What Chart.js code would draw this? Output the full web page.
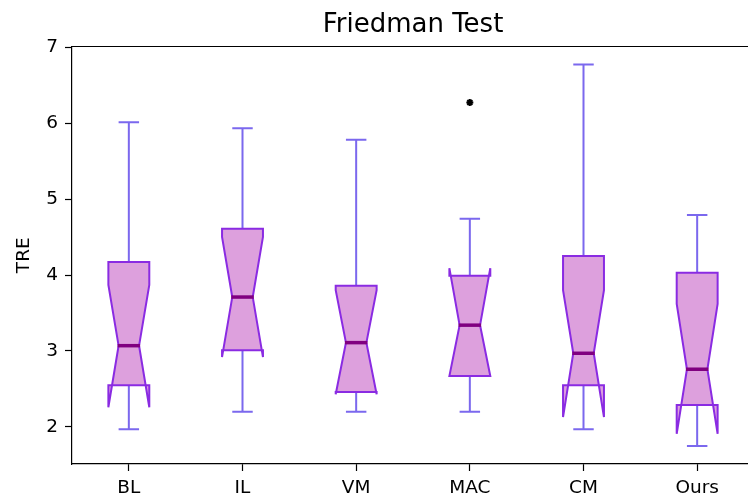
<!DOCTYPE html>
<html>
<head>
<meta charset="utf-8">
<script src="https://cdn.jsdelivr.net/npm/chart.js@4.4.1/dist/chart.umd.min.js"></script>
<style>
  html, body { margin: 0; padding: 0; background: #fff; overflow: hidden; }
  #wrap { width: 760px; height: 498px; position: relative; }
</style>
</head>
<body>
<div id="wrap"><canvas id="boxChart"></canvas></div>
<script>
// Box plot values (TRE per method)
const categories = ['BL', 'IL', 'VM', 'MAC', 'CM', 'Ours'];
const whiskerLow = [1.97, 2.20, 2.20, 2.20, 1.97, 1.75];
const q1 = [2.55, 3.01, 2.46, 2.67, 2.55, 2.29];
const medians = [3.07, 3.71, 3.11, 3.34, 2.97, 2.76];
const q3 = [4.17, 4.61, 3.86, 3.99, 4.25, 4.03];
const whiskerHigh = [6.01, 5.93, 5.78, 4.74, 6.77, 4.79];
const notchLow = [2.26, 2.92, 2.43, 2.67, 2.13, 1.91];
const notchHigh = [3.87, 4.50, 3.80, 4.09, 3.80, 3.62];
const outliers = [{ x: 4, y: 6.27 }];
const yTicks = [2, 3, 4, 5, 6, 7];

Chart.defaults.font.family = "'DejaVu Sans', sans-serif";
Chart.defaults.color = '#000';

const boxHalf = 0.18;

// Draws the notched boxes with the chart's own scales
const notchedBoxes = {
    id: 'notchedBoxes',
    beforeDatasetsDraw(chart) {
        const ctx = chart.ctx;
        const x = chart.scales.x;
        const y = chart.scales.y;
        ctx.save();
        categories.forEach((name, i) => {
            const pos = i + 1;
            const c = x.getPixelForValue(pos);
            const l = x.getPixelForValue(pos - boxHalf);
            const r = x.getPixelForValue(pos + boxHalf);
            const ql = x.getPixelForValue(pos - boxHalf / 2);
            const qr = x.getPixelForValue(pos + boxHalf / 2);

            // whiskers + caps
            ctx.strokeStyle = '#7B68EE';
            ctx.lineWidth = 2;
            ctx.beginPath();
            ctx.moveTo(c, y.getPixelForValue(q3[i]));
            ctx.lineTo(c, y.getPixelForValue(whiskerHigh[i]));
            ctx.moveTo(c, y.getPixelForValue(q1[i]));
            ctx.lineTo(c, y.getPixelForValue(whiskerLow[i]));
            ctx.moveTo(ql, y.getPixelForValue(whiskerHigh[i]));
            ctx.lineTo(qr, y.getPixelForValue(whiskerHigh[i]));
            ctx.moveTo(ql, y.getPixelForValue(whiskerLow[i]));
            ctx.lineTo(qr, y.getPixelForValue(whiskerLow[i]));
            ctx.stroke();

            // notched box
            ctx.beginPath();
            ctx.moveTo(l, y.getPixelForValue(q1[i]));
            ctx.lineTo(l, y.getPixelForValue(notchLow[i]));
            ctx.lineTo(ql, y.getPixelForValue(medians[i]));
            ctx.lineTo(l, y.getPixelForValue(notchHigh[i]));
            ctx.lineTo(l, y.getPixelForValue(q3[i]));
            ctx.lineTo(r, y.getPixelForValue(q3[i]));
            ctx.lineTo(r, y.getPixelForValue(notchHigh[i]));
            ctx.lineTo(qr, y.getPixelForValue(medians[i]));
            ctx.lineTo(r, y.getPixelForValue(notchLow[i]));
            ctx.lineTo(r, y.getPixelForValue(q1[i]));
            ctx.closePath();
            ctx.fillStyle = '#DDA0DD';
            ctx.fill();
            ctx.strokeStyle = '#8A2BE2';
            ctx.lineWidth = 2;
            ctx.lineJoin = 'miter';
            ctx.stroke();

            // median
            ctx.strokeStyle = '#800080';
            ctx.lineWidth = 3.5;
            ctx.beginPath();
            ctx.moveTo(ql - 1, y.getPixelForValue(medians[i]));
            ctx.lineTo(qr + 1, y.getPixelForValue(medians[i]));
            ctx.stroke();
        });
        ctx.restore();
    },
    afterDraw(chart) {
        // top and right spines
        const { ctx, chartArea } = chart;
        ctx.save();
        ctx.strokeStyle = '#000';
        ctx.lineWidth = 1.2;
        ctx.beginPath();
        ctx.moveTo(chartArea.left, chartArea.top);
        ctx.lineTo(chartArea.right, chartArea.top);
        ctx.lineTo(chartArea.right, chartArea.bottom);
        ctx.stroke();
        ctx.restore();
    }
};

const ctx = document.getElementById('boxChart').getContext('2d');
new Chart(ctx, {
    type: 'scatter',
    data: {
        datasets: [{
            label: 'Outliers',
            data: outliers,
            pointStyle: 'star',
            radius: 3.5,
            borderWidth: 2,
            borderColor: '#000',
            backgroundColor: '#000'
        }]
    },
    options: {
        responsive: true,
        maintainAspectRatio: false,
        animation: false,
        layout: { padding: 0 },
        plugins: {
            legend: { display: false },
            tooltip: { enabled: false },
            title: {
                display: true,
                fullSize: false,
                text: 'Friedman Test',
                color: '#000',
                font: { size: 26, weight: 'normal' },
                padding: { top: 9.5, bottom: 5.8 }
            }
        },
        scales: {
            x: {
                type: 'linear',
                min: 0.5,
                max: 6.5,
                afterBuildTicks: (scale) => {
                    scale.ticks = categories.map((c, i) => ({ value: i + 1 }));
                },
                afterFit: (scale) => {
                    scale.height = 34;
                    scale.paddingLeft = 0;
                    scale.paddingRight = 0;
                },
                ticks: {
                    autoSkip: false,
                    maxRotation: 0,
                    padding: 6,
                    font: { size: 18.5 },
                    callback: (v) => categories[v - 1]
                },
                grid: {
                    drawOnChartArea: false,
                    drawTicks: true,
                    tickLength: 7,
                    tickColor: '#000',
                    tickWidth: 1.2
                },
                border: { display: true, color: '#000', width: 1.2 }
            },
            y: {
                min: 1.513,
                max: 7.007,
                afterBuildTicks: (scale) => {
                    scale.ticks = yTicks.map(v => ({ value: v }));
                },
                afterFit: (scale) => {
                    scale.width = 72;
                    scale.paddingTop = 0;
                    scale.paddingBottom = 0;
                },
                ticks: {
                    padding: 7,
                    font: { size: 18.5 }
                },
                title: {
                    display: true,
                    text: 'TRE',
                    font: { size: 18.5 },
                    padding: { top: 13, bottom: 0 }
                },
                grid: {
                    drawOnChartArea: false,
                    drawTicks: true,
                    tickLength: 7,
                    tickColor: '#000',
                    tickWidth: 1.2
                },
                border: { display: true, color: '#000', width: 1.2 }
            }
        }
    },
    plugins: [notchedBoxes]
});
</script>
</body>
</html>
